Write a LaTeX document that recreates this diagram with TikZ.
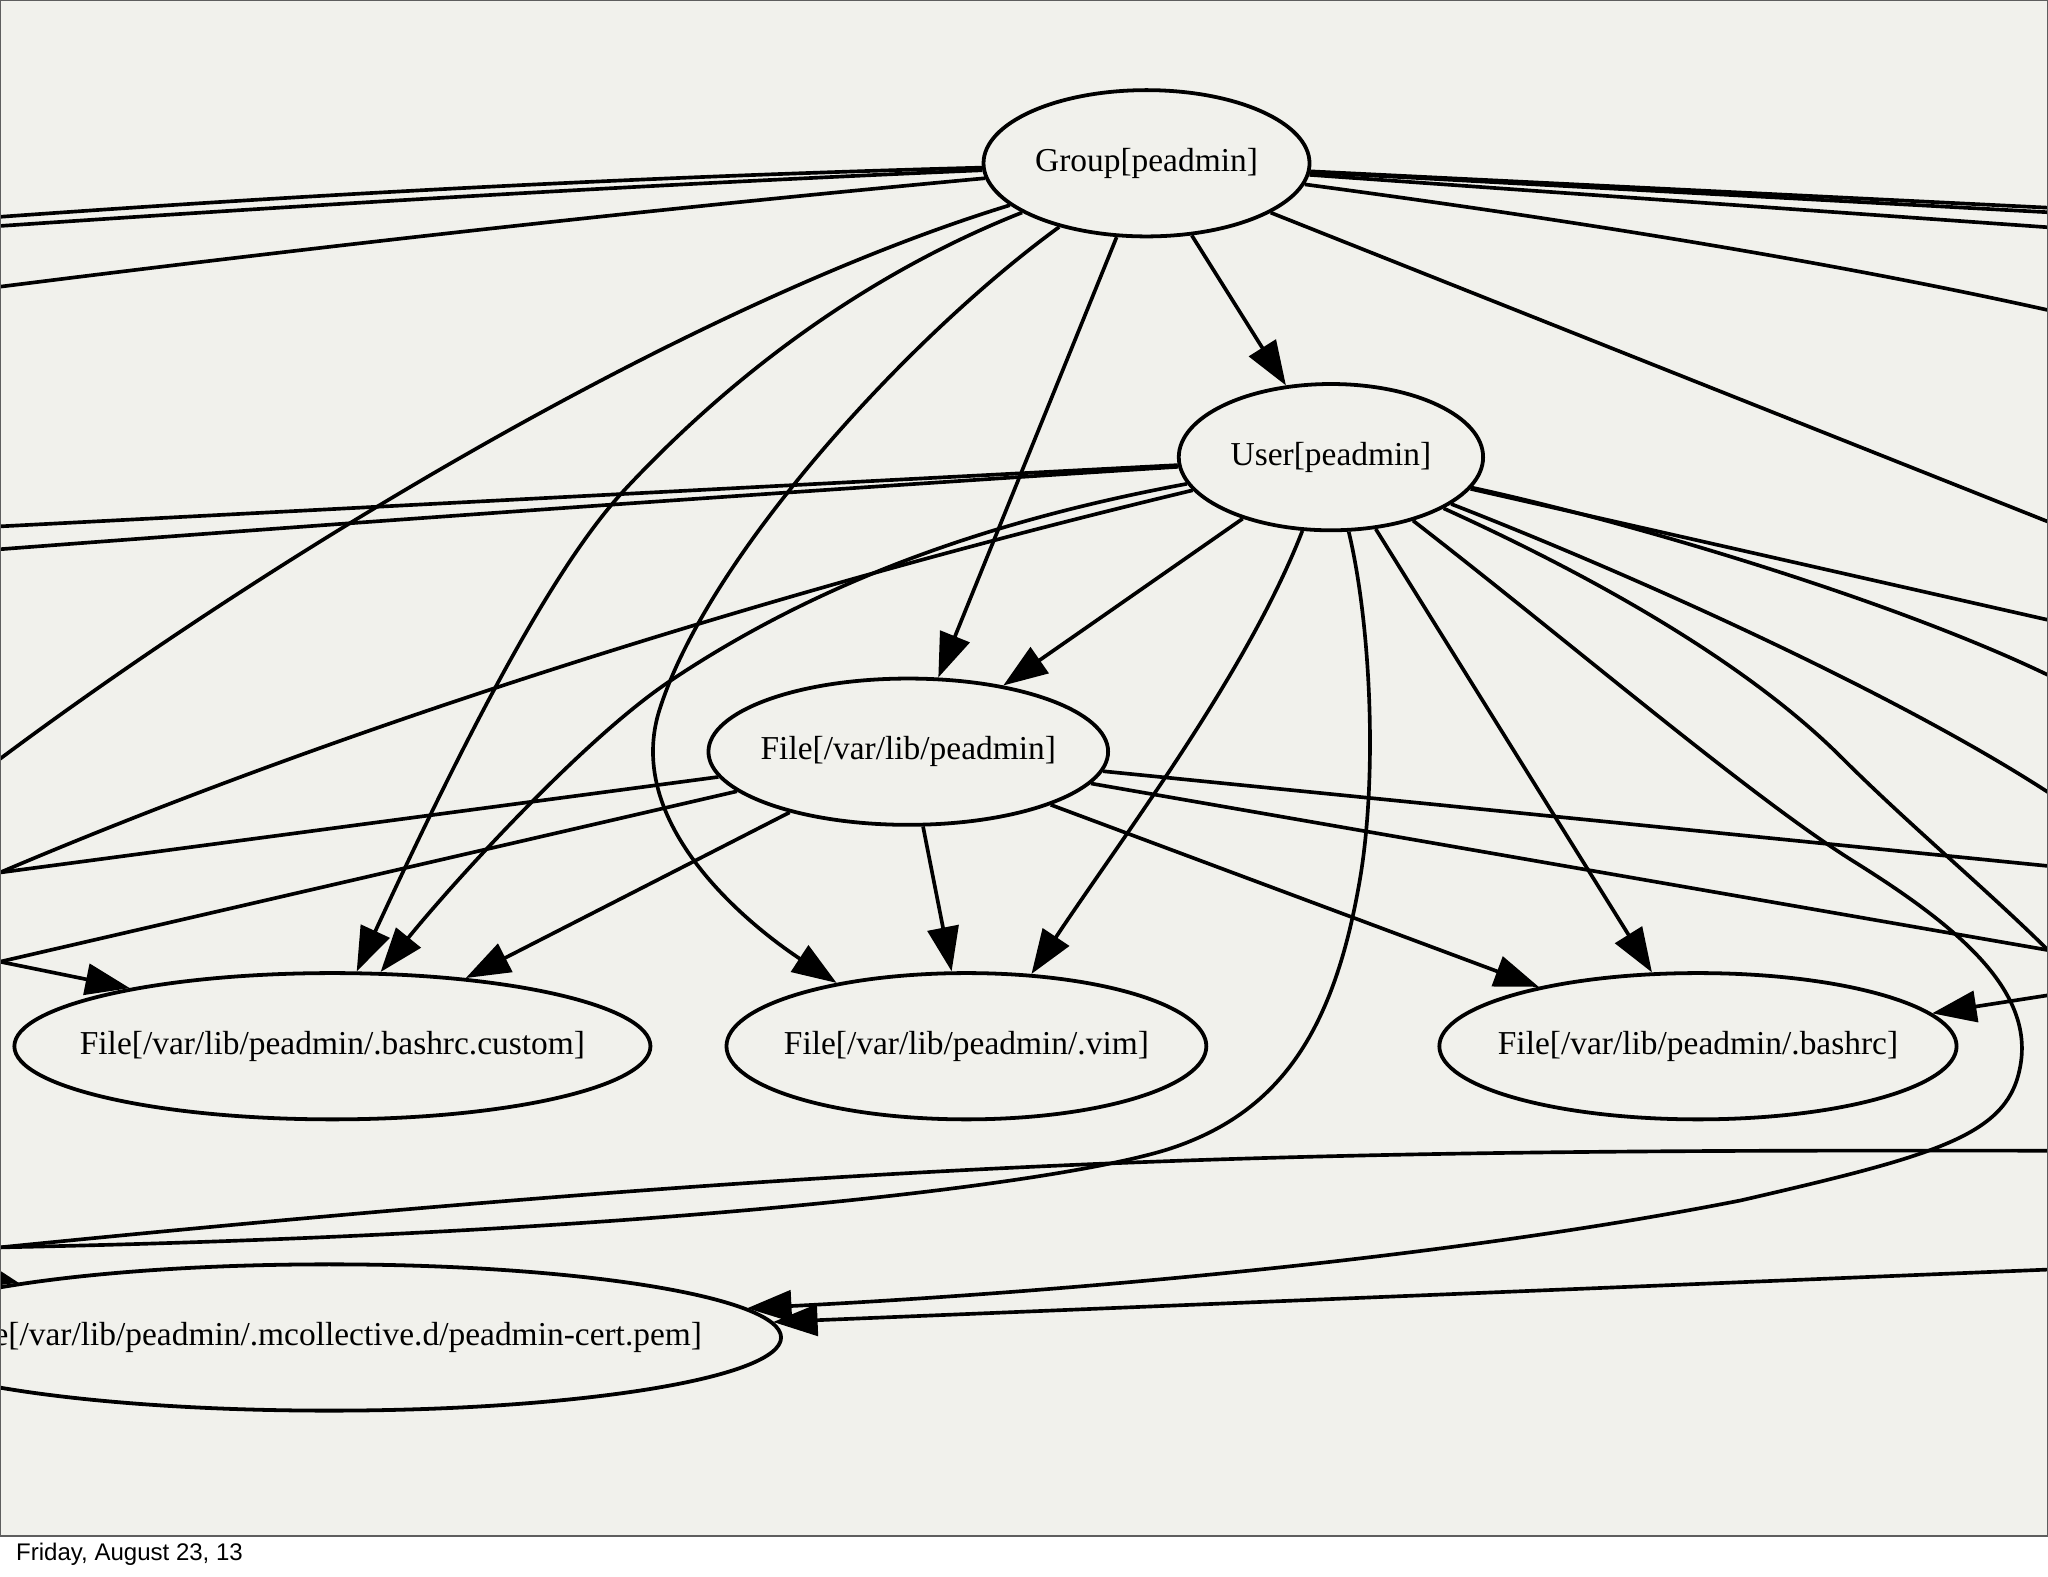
\documentclass[tikz,border=0pt]{standalone}
\usepackage{fontspec}
\setmainfont{Liberation Serif}
\newfontfamily\footfont{Liberation Sans}
\usetikzlibrary {arrows.meta}
\usetikzlibrary {shapes.geometric}
\definecolor{slidebg}{HTML}{F1F1EC}
\definecolor{framegray}{HTML}{5E5E5E}
\newcommand{\rname}[1]{\makebox[0pt]{#1}}

\begin{document}
\begin{tikzpicture}[x=0.5pt, y=-0.5pt, >={Triangle[length=17pt,width=12pt]},
    res/.style={draw, ellipse, line width=1.45pt, inner sep=0pt, minimum height=56pt, font=\fontsize{12.8}{15}\selectfont},
    dep/.style={line width=1.4pt}]
    \useasboundingbox (0,0) rectangle (1568,1206.7);
    \fill [white] (0,0) rectangle (1568,1206.7);
    \fill [slidebg] (0,0) rectangle (1568,1176);
    \begin{scope}
    \clip (0,0) rectangle (1568,1176);
    \node [res, minimum width=124.8pt] (grp) at (877.8,125) {\rname{Group[peadmin]}};
    \node [res, minimum width=116.5pt] (usr) at (1019,350) {\rname{User[peadmin]}};
    \node [res, minimum width=153pt] (dir) at (695.4,575.5) {\rname{File[/var/lib/peadmin]}};
    \node [res, minimum width=243.5pt] (custom) at (254.5,801) {\rname{File[/var/lib/peadmin/.bashrc.custom]}};
    \node [res, minimum width=183.7pt] (vim) at (739.9,801) {\rname{File[/var/lib/peadmin/.vim]}};
    \node [res, minimum width=198pt] (bashrc) at (1300,801) {\rname{File[/var/lib/peadmin/.bashrc]}};
    \node [res, minimum width=346pt] (cert) at (252,1024) {\rname{File[/var/lib/peadmin/.mcollective.d/peadmin-cert.pem]}};
    \coordinate (gl1) at (0,166); \coordinate (gl2) at (0,173); \coordinate (gl3) at (0,219.5);
    \coordinate (gl4) at (0,581); \coordinate (ul1) at (0,403); \coordinate (ul2) at (0,420.5);
    \coordinate (la) at (0,668); \coordinate (lb) at (0,736.3); \coordinate (lc) at (0,955);
    \coordinate (ld) at (-60,965);
    \coordinate (gr1) at (1568,159); \coordinate (gr2) at (1568,162.5); \coordinate (gr3) at (1568,174);
    \coordinate (gr4) at (1568,237.4); \coordinate (gr5) at (1568,399.4);
    \coordinate (ur1) at (1568,474.6); \coordinate (ur2) at (1568,516.8); \coordinate (ur3) at (1568,606.5);
    \coordinate (ra) at (1568,663); \coordinate (rb) at (1568,727.4); \coordinate (rc) at (1568,762);
    \coordinate (rd) at (1568,881); \coordinate (re) at (1568,972);
    \draw [dep] (grp) .. controls (500,135) and (250,148) .. (gl1);
    \draw [dep] (grp) .. controls (500,141) and (250,156) .. (gl2);
    \draw [dep] (grp) .. controls (500,160) and (250,188) .. (gl3);
    \draw [dep] (grp) .. controls (527,232.6) and (208,425.8) .. (gl4);
    \draw [dep, ->] (grp) .. controls (655.4,213) and (553.8,294.2) .. (478.7,374.5) .. controls (424,432.9) and (356.8,562.6) .. (custom.72);
    \draw [dep, ->] (grp) .. controls (690.8,261.4) and (540.3,429.6) .. (504.7,544.2) .. controls (475,639.7) and (593.1,721.3) .. (vim.154);
    \draw [dep, ->] (grp) -- (dir);
    \draw [dep, ->] (grp) -- (usr);
    \draw [dep] (grp) -- (gr1); \draw [dep] (grp) -- (gr2); \draw [dep] (grp) -- (gr3);
    \draw [dep] (grp) .. controls (1200,168) and (1400,200) .. (gr4);
    \draw [dep] (grp) -- (gr5);
    \draw [dep] (usr) -- (ul1);
    \draw [dep] (usr) .. controls (750,367) and (400,390) .. (ul2);
    \draw [dep] (usr) .. controls (616.4,446.5) and (276,550.4) .. (la);
    \draw [dep, ->] (usr) .. controls (760,398) and (628.3,443.9) .. (512.1,522) .. controls (445.7,566.6) and (345.7,677.1) .. (custom.57);
    \draw [dep, ->] (usr) -- (dir);
    \draw [dep, ->] (usr) .. controls (955,515) and (860,640) .. (vim.48);
    \draw [dep] (usr) .. controls (1050,480) and (1055,600) .. (1040,680) .. controls (1020,790) and (980,850) .. (900,878) .. controls (820,906) and (500,945) .. (lc);
    \draw [dep, ->] (usr) -- (bashrc);
    \draw [dep] (usr) .. controls (1250,455) and (1350,520) .. (1410,580) .. controls (1460,630) and (1520,680) .. (rb);
    \draw [dep, ->] (usr) .. controls (1200,490) and (1340,610) .. (1420,660) .. controls (1500,710) and (1560,760) .. (1546,820) .. controls (1535,870) and (1480,885) .. (1333,919) .. controls (1100,965) and (800,990) .. (cert.4);
    \draw [dep] (usr) -- (ur1);
    \draw [dep] (usr) .. controls (1250,400) and (1450,460) .. (ur2);
    \draw [dep] (usr) .. controls (1250,440) and (1450,530) .. (ur3);
    \draw [dep] (dir) -- (la); \draw [dep] (dir) -- (lb);
    \draw [dep, ->] (dir) -- (custom);
    \draw [dep, ->] (dir) -- (vim);
    \draw [dep, ->] (dir) -- (bashrc);
    \draw [dep] (dir) -- (ra); \draw [dep] (dir) -- (rb);
    \draw [dep, ->] (lb) -- (custom.164);
    \draw [dep, ->] (rc) -- (bashrc.8);
    \draw [dep] (rd) .. controls (1000,880) and (700,885) .. (lc);
    \draw [dep, ->] (re) -- (cert.2);
    \draw [dep, ->] (ld) -- (cert.170);
    \end{scope}
    \draw [framegray, line width=1pt] (0,0) rectangle (1568,1176);
    \node [anchor=base west, inner sep=0pt, font=\footfont\fontsize{9.2}{11}\selectfont] (date) at (12,1195) {Friday, August 23, 13};
\end{tikzpicture}
\end{document}
